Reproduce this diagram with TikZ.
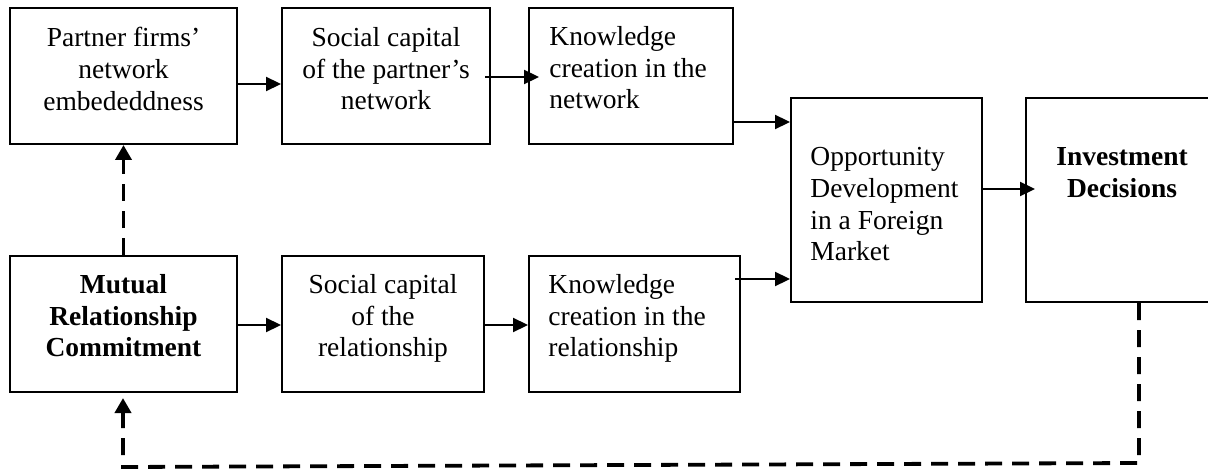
\documentclass[tikz,border=0pt]{standalone}
\usepackage{fontspec}
\setmainfont{Liberation Serif}
\usetikzlibrary{arrows.meta}
\begin{document}
\begin{tikzpicture}[x=0.5pt,y=-0.5pt,
  box/.style={draw,line width=1pt,inner sep=0pt,rectangle},
  txt/.style={inner sep=0pt,font=\fontsize{13.75}{15.85}\selectfont},
  arr/.style={line width=1.1pt,-{Triangle[length=7.5pt,width=7pt]}},
  darr/.style={line width=1.9pt,dash pattern=on 8.5pt off 5pt,-{Triangle[length=7.5pt,width=8pt]}}]
\useasboundingbox (0,0) rectangle (1208,470);
% boxes
\node[box,minimum width=113.5pt,minimum height=68pt] (b1) at (123.5,76) {};
\node[box,minimum width=104pt,minimum height=68pt] (b2) at (386,76) {};
\node[box,minimum width=102pt,minimum height=68pt] (b3) at (631,76) {};
\node[box,minimum width=113.5pt,minimum height=68pt] (b4) at (123.5,324) {};
\node[box,minimum width=101pt,minimum height=68pt] (b5) at (383,324) {};
\node[box,minimum width=105.5pt,minimum height=68pt] (b6) at (634.5,324) {};
\node[box,minimum width=95.5pt,minimum height=102pt] (opp) at (886.5,200) {};
\node[box,minimum width=96pt,minimum height=102pt] (inv) at (1122,200) {};
% texts
\node[txt,align=center,anchor=north] (t1) at (123.5,27) {Partner firms’\\network\\embededdness};
\node[txt,align=center,anchor=north] (t2) at (386,27) {Social capital\\of the partner’s\\network};
\node[txt,align=left,anchor=north west] (t3) at (549,26) {Knowledge\\creation in the\\network};
\node[txt,align=center,anchor=north,font=\fontsize{13.75}{15.85}\selectfont\bfseries] (t4) at (123.5,274) {Mutual\\Relationship\\Commitment};
\node[txt,align=center,anchor=north] (t5) at (383,274) {Social capital\\of the\\relationship};
\node[txt,align=left,anchor=north west] (t6) at (548,274) {Knowledge\\creation in the\\relationship};
\node[txt,align=left,anchor=north west] (t7) at (810,147) {Opportunity\\Development\\in a Foreign\\Market};
\node[txt,align=center,anchor=north,font=\fontsize{13.75}{15.85}\selectfont\bfseries] (t8) at (1122,147) {Investment\\Decisions};
% connectors
\draw[arr] ([yshift=-4pt]b1.east) -- ([yshift=-4pt]b2.west);
\draw[arr] ([xshift=-3pt,yshift=-0.5pt]b2.east) -- ([xshift=5.5pt,yshift=-0.5pt]b3.west);
\draw[arr] ([yshift=-23pt]b3.east) -- ([yshift=39pt]opp.west);
\draw[arr] ([xshift=-3pt,yshift=22.5pt]b6.east) -- ([yshift=-39.5pt]opp.west);
\draw[arr] ([yshift=5.5pt]opp.east) -- ([xshift=5pt,yshift=5.5pt]inv.west);
\draw[arr] ([yshift=-0.5pt]b4.east) -- ([yshift=-0.5pt]b5.west);
\draw[arr] ([yshift=-0.5pt]b5.east) -- ([yshift=-0.5pt]b6.west);
\draw[darr] (b4.north) -- (b1.south);
\coordinate (fbR) at (1139,463);
\coordinate (fbL) at (123,467);
\draw[darr,shorten >=2.5pt] (fbR |- inv.south) -- (fbR) -- (fbL) -- (fbL |- b4.south);
\end{tikzpicture}
\end{document}
